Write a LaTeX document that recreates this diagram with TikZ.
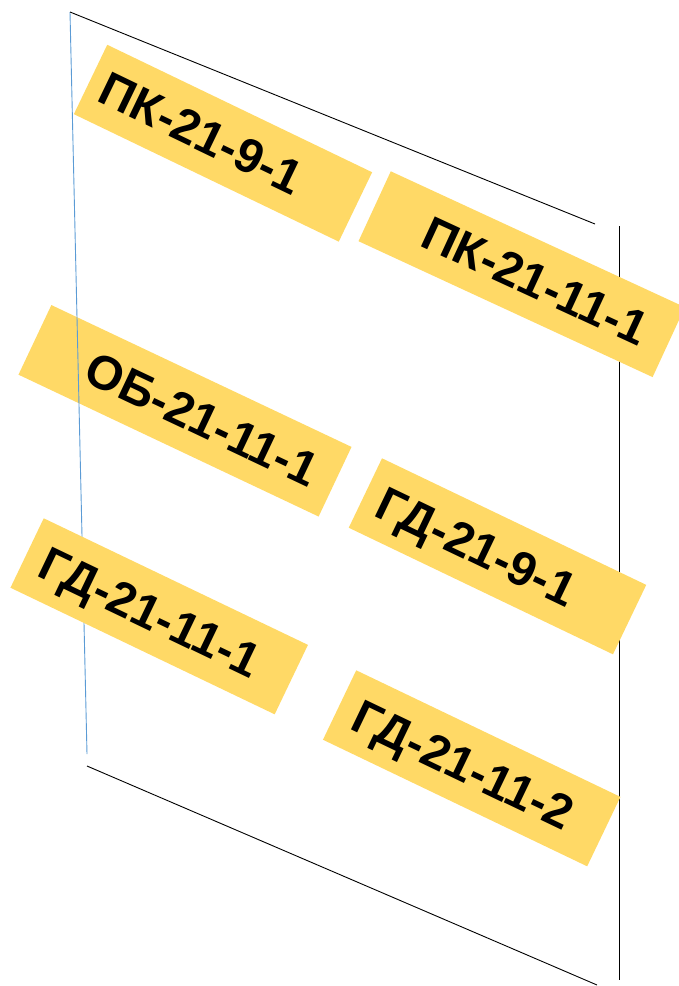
\documentclass[tikz,border=0pt]{standalone}
\usepackage{fontspec}
\setmainfont{Liberation Sans}
\definecolor{lblyellow}{HTML}{FFD966}
\definecolor{lineblue}{HTML}{5B9BD5}
\newcommand\lbltext[3]{\makebox[#1pt][l]{\hspace*{#2pt}#3}}
\begin{document}
\begin{tikzpicture}[x=1pt,y=-1pt,
  lbl/.style={fill=lblyellow, inner sep=0pt, minimum height=77pt,
    text height=34pt, text depth=0pt,
    font=\fontsize{48}{56}\selectfont\bfseries},
  frame/.style={black, line width=0.9pt},
  blueline/.style={lineblue, line width=0.9pt}]
\useasboundingbox (0,0) rectangle (679,986);
% box under the blue line
\node[lbl, rotate=-25.3] (ob) at (185,410.8) {\lbltext{332}{60}{ОБ-21-11-1}};
% frame lines
\coordinate (tl) at (70,12);
\coordinate (tr) at (595,224);
\coordinate (rt) at (619,226);
\coordinate (rb) at (619,980);
\coordinate (bl) at (87,754);
\coordinate (bs) at (87,766);
\coordinate (be) at (597,985);
\draw[blueline] (tl) -- (bl);
\draw[frame] (tl) -- (tr);
\draw[frame] (rt) -- (rb);
\draw[frame] (bs) -- (be);
% other labels
\node[lbl, rotate=-25.7] (pk9) at (223,143.2) {\lbltext{294}{14}{ПК-21-9-1}};
\node[lbl, rotate=-24.8] (pk11) at (521.7,274.2) {\lbltext{324}{56}{ПК-21-11-1}};
\node[lbl, rotate=-25.6] (gd9) at (497.5,556.3) {\lbltext{293}{16}{ГД-21-9-1}};
\node[lbl, rotate=-25.6] (gd111) at (159.2,616.3) {\lbltext{293}{17}{ГД-21-11-1}};
\node[lbl, rotate=-25.6] (gd112) at (471.7,768.3) {\lbltext{293}{18}{ГД-21-11-2}};
\end{tikzpicture}
\end{document}
